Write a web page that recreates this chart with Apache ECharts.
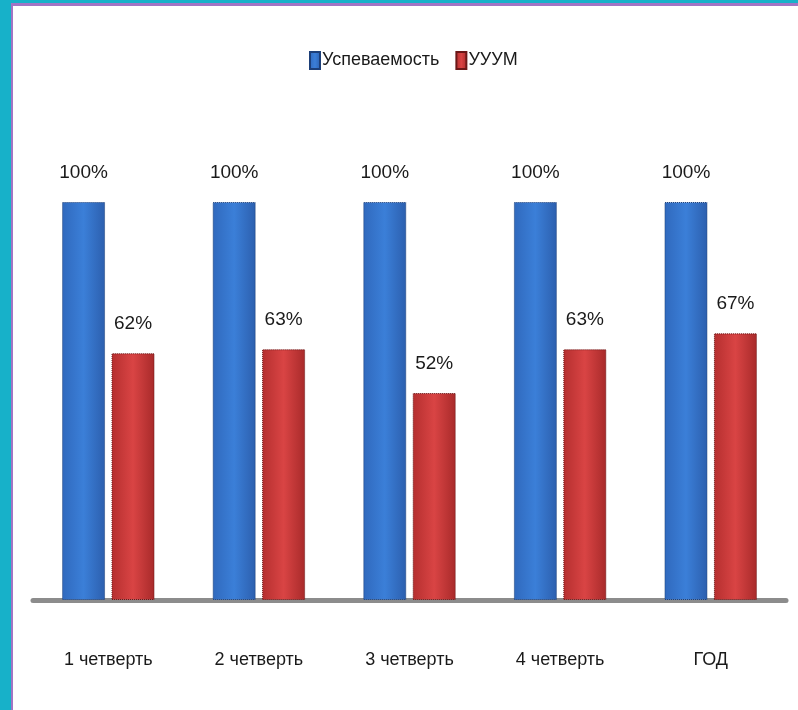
<!DOCTYPE html>
<html>
<head>
<meta charset="utf-8">
<script src="https://cdn.jsdelivr.net/npm/echarts@6/dist/echarts.min.js"></script>
<style>
html,body{margin:0;padding:0;width:798px;height:710px;overflow:hidden;background:#17b1c9;}
#frame{position:absolute;left:11px;top:3px;width:787px;height:707px;box-sizing:border-box;border-left:2px solid #a274c4;border-top:3px solid #a274c4;background:#ffffff;}
#chart{position:absolute;left:0;top:0;width:798px;height:710px;}
</style>
</head>
<body>
<div id="frame"></div>
<div id="chart"></div>
<script>
var categories = ['1 четверть', '2 четверть', '3 четверть', '4 четверть', 'ГОД'];
var successValues = [100, 100, 100, 100, 100];
var uuumValues = [62, 63, 52, 63, 67];
var seriesNames = ['Успеваемость', 'УУУМ'];

var FONT = "'Liberation Sans Narrow', 'Liberation Sans', Arial, sans-serif";

function grad(c1, c2, c3) {
  return new echarts.graphic.LinearGradient(0, 0, 1, 0, [
    {offset: 0, color: c1}, {offset: 0.5, color: c2}, {offset: 1, color: c3}
  ]);
}

var chart = echarts.init(document.getElementById('chart'), null, {renderer: 'canvas'});
chart.setOption({
  backgroundColor: 'transparent',
  animation: false,
  legend: {
    top: 46,
    left: 304,
    itemWidth: 10,
    itemHeight: 17,
    itemGap: 16,
    icon: 'rect',
    textStyle: {fontFamily: FONT, fontSize: 18, color: '#1a1a1a', padding: [0, 0, 0, -3]},
    data: seriesNames
  },
  grid: {left: 33, right: 12, top: 202, bottom: 110, containLabel: false},
  xAxis: {
    type: 'category',
    data: categories,
    axisLine: {show: true, lineStyle: {color: '#8c8c8c', width: 5}},
    axisTick: {show: false},
    axisLabel: {fontFamily: FONT, fontSize: 18, color: '#1a1a1a', margin: 51}
  },
  yAxis: {
    type: 'value',
    min: 0,
    max: 100,
    show: false,
    splitLine: {show: false}
  },
  series: [
    {
      name: seriesNames[0],
      type: 'bar',
      data: successValues,
      barWidth: 43,
      barGap: '15%',
      itemStyle: {
        color: grad('#3069bd', '#3b7fd8', '#2c5fae'),
        borderColor: '#1d3f78',
        borderWidth: 1,
        borderType: 'dotted'
      },
      label: {
        show: true, position: 'top', distance: 20,
        formatter: '{c}%', fontFamily: FONT, fontSize: 19, color: '#1a1a1a'
      }
    },
    {
      name: seriesNames[1],
      type: 'bar',
      data: uuumValues,
      barWidth: 43,
      itemStyle: {
        color: grad('#b52f2f', '#d94444', '#a82a2a'),
        borderColor: '#6b1818',
        borderWidth: 1,
        borderType: 'dotted'
      },
      label: {
        show: true, position: 'top', distance: 20,
        formatter: '{c}%', fontFamily: FONT, fontSize: 19, color: '#1a1a1a'
      }
    }
  ]
});
</script>
</body>
</html>
